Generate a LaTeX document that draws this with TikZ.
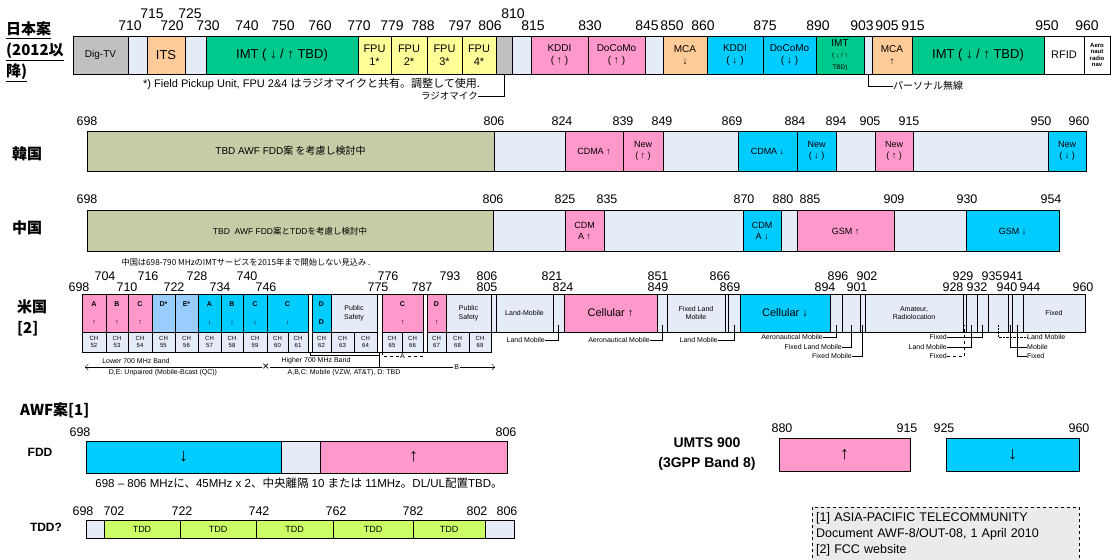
\documentclass[tikz,border=0pt]{standalone}
\usepackage{fontspec}
\setmainfont{Liberation Sans}
\newfontfamily\jp{Noto Sans CJK JP}
\usetikzlibrary{arrows.meta, calc}

\definecolor{blankc}{HTML}{E6ECF7}
\definecolor{pinkc}{HTML}{FF99CC}
\definecolor{cyanc}{HTML}{00CCFF}
\definecolor{grayc}{HTML}{C0C0C0}
\definecolor{orangec}{HTML}{FFCC99}
\definecolor{imtc}{HTML}{00C98D}
\definecolor{fpuc}{HTML}{FFFF99}
\definecolor{olivec}{HTML}{C6CCA6}
\definecolor{ltbluec}{HTML}{99CCFF}
\definecolor{tddc}{HTML}{CCFF66}
\definecolor{refc}{HTML}{EBEBEB}

\begin{document}
\begin{tikzpicture}[x=1pt, y=-1pt,
    band/.style={draw, line width=0.9pt, inner sep=0pt, outer sep=0pt,
                 align=center, fill=blankc},
    sp/.style 2 args={minimum width={(#2-#1)*1pt}, xshift={(#1+#2)/2*1pt}},
    jrow/.style={band, minimum height=38pt, font=\fontsize{10}{11.5}\selectfont},
    krow/.style={band, minimum height=40pt, font=\fontsize{9}{11}\selectfont},
    crow/.style={band, minimum height=41pt, font=\fontsize{9}{11}\selectfont},
    urow/.style={band, minimum height=38pt, font=\fontsize{7}{8.5}\selectfont},
    ulet/.style={font=\bfseries\fontsize{7}{8}\selectfont},
    ugap/.style={band, minimum height=58pt},
    chcell/.style={band, minimum height=20pt, font=\fontsize{6}{6.5}\selectfont},
    frow/.style={band, minimum height=32pt, font=\bfseries\fontsize{18}{18}\selectfont},
    trow/.style={band, minimum height=18pt, fill=tddc, font=\fontsize{9}{10}\selectfont},
    num/.style={inner sep=0pt, font=\fontsize{12.5}{13}\selectfont},
    jnum/.style={inner sep=0pt, font=\fontsize{14}{14}\selectfont},
    note/.style={inner sep=0pt, font=\fontsize{7}{8}\selectfont},
    cjknote/.style={inner sep=0pt, font=\fontsize{9.5}{10}\selectfont},
    country/.style={inner sep=0pt, align=left, font=\jp\bfseries\fontsize{15}{21}\selectfont},
    heading/.style={inner sep=0pt, align=center, font=\bfseries\fontsize{14}{20}\selectfont},
    t6/.style={font=\bfseries\fontsize{6}{6.5}\selectfont},
    t11/.style={font=\fontsize{11}{13}\selectfont},
    t13/.style={font=\fontsize{13}{14}\selectfont},
    >={Straight Barb[length=3pt]}
  ]
  \useasboundingbox (0,0) rectangle (1112,560);

  % ---- Japan
  \node[country, anchor=west] (jtitle) at (6,52)
    {\underline{日本案}\\\underline{(2012以}\\\underline{降)}};
  \node[jrow, sp={73}{128}, fill=grayc] (jdtv) at (0,55) {Dig-TV};
  \node[jrow, sp={128}{147}] (jg1) at (0,55) {};
  \node[jrow, sp={147}{185}, fill=orangec, t13] (jits) at (0,55) {ITS};
  \node[jrow, sp={185}{206}] (jg2) at (0,55) {};
  \node[jrow, sp={206}{358}, fill=imtc, t13] (jimt1) at (0,55) {IMT ( ↓ / ↑  TBD)};
  \node[jrow, sp={358}{391}, fill=fpuc, t11] (jfpu1) at (0,55) {FPU\\1*};
  \node[jrow, sp={391}{427}, fill=fpuc, t11] (jfpu2) at (0,55) {FPU\\2*};
  \node[jrow, sp={427}{462}, fill=fpuc, t11] (jfpu3) at (0,55) {FPU\\3*};
  \node[jrow, sp={462}{496}, fill=fpuc, t11] (jfpu4) at (0,55) {FPU\\4*};
  \node[jrow, sp={496}{512}, fill=grayc] (jmic) at (0,55) {};
  \node[jrow, sp={512}{531}] (jg3) at (0,55) {};
  \node[jrow, sp={531}{588}, fill=pinkc] (jkddiu) at (0,55) {KDDI\\( ↑ )};
  \node[jrow, sp={588}{645}, fill=pinkc] (jdcmu) at (0,55) {DoCoMo\\( ↑ )};
  \node[jrow, sp={645}{663}] (jg4) at (0,55) {};
  \node[jrow, sp={663}{707}, fill=orangec] (jmcad) at (0,55) {MCA\\↓};
  \node[jrow, sp={707}{763}, fill=cyanc] (jkddid) at (0,55) {KDDI\\( ↓ )};
  \node[jrow, sp={763}{816}, fill=cyanc] (jdcmd) at (0,55) {DoCoMo\\( ↓ )};
  \node[jrow, sp={816}{864}, fill=imtc] (jimt2) at (0,55)
    {IMT\\{\fontsize{6.5}{7}\selectfont( ↓ / ↑}\\{\fontsize{6.5}{7}\selectfont TBD)}};
  \node[jrow, sp={864}{872}] (jpers) at (0,55) {};
  \node[jrow, sp={872}{912}, fill=orangec] (jmcau) at (0,55) {MCA\\↑};
  \node[jrow, sp={912}{1044}, fill=imtc, t13] (jimt3) at (0,55) {IMT ( ↓ / ↑  TBD)};
  \node[jrow, sp={1044}{1084}, fill=white, t11] (jrfid) at (0,55) {RFID};
  \node[jrow, sp={1084}{1110}, fill=white, t6] (jaero) at (0,55) {Aero\\naut\\radio\\nav};
  \foreach \x/\t in {152/715, 190/725, 513/810}
    \node[jnum] (jn\t) at (\x,14) {\t};
  \foreach \x/\t in {130/710, 172/720, 208/730, 247/740, 283/750, 320/760, 359/770,
                     392/779, 423/788, 460/797, 490/806, 533/815, 590/830, 647/845,
                     672/850, 703/860, 765/875, 818/890, 862/903, 887/905, 913/915,
                     1047/950, 1087/960}
    \node[jnum] (jn\t) at (\x,26) {\t};
  \node[cjknote, anchor=west, font=\fontsize{11}{12}\selectfont] (jfpunote) at (143,84)
    {*) Field Pickup Unit, FPU 2\&4 {\jp はラジオマイクと共有。調整して使用.}};
  \node[cjknote, anchor=east, font=\jp\fontsize{9.5}{10}\selectfont] (jmicnote) at (478,96) {ラジオマイク};
  \node[cjknote, anchor=west, font=\jp\fontsize{10}{10}\selectfont] (jpersnote) at (893,86) {パーソナル無線};
  \draw[line width=0.7pt] (jmicnote.east) -| (jmic.south);
  \draw[line width=0.7pt] (jpersnote.west) -| (jpers.south);

  % ---- Korea
  \node[country, anchor=west] (ktitle) at (12,154) {韓国};
  \node[krow, sp={87}{494}, fill=olivec, font=\fontsize{10}{11}\selectfont] (kawf) at (0,151)
    {TBD AWF FDD{\jp 案 を考慮し検討中}};
  \node[krow, sp={494}{565}] (kg1) at (0,151) {};
  \node[krow, sp={565}{623}, fill=pinkc] (kcdmau) at (0,151) {CDMA ↑};
  \node[krow, sp={623}{663}, fill=pinkc] (knew1) at (0,151) {New\\( ↑ )};
  \node[krow, sp={663}{738}] (kg2) at (0,151) {};
  \node[krow, sp={738}{797}, fill=cyanc] (kcdmad) at (0,151) {CDMA ↓};
  \node[krow, sp={797}{836}, fill=cyanc] (knew2) at (0,151) {New\\( ↓ )};
  \node[krow, sp={836}{875}] (kg3) at (0,151) {};
  \node[krow, sp={875}{913}, fill=pinkc] (knew3) at (0,151) {New\\( ↑ )};
  \node[krow, sp={913}{1048}] (kg4) at (0,151) {};
  \node[krow, sp={1048}{1086}, fill=cyanc] (knew4) at (0,151) {New\\( ↓ )};
  \foreach \x/\t in {87/698, 494/806, 562/824, 623/839, 662/849, 732/869, 795/884,
                     836/894, 870/905, 909/915, 1041/950, 1079/960}
    \node[num] (kn\t) at (\x,121) {\t};

  % ---- China
  \node[country, anchor=west] (ctitle) at (12,228) {中国};
  \node[crow, sp={87}{493}, fill=olivec, font=\fontsize{8.5}{10}\selectfont] (cawf) at (0,231)
    {TBD\ \ AWF FDD{\jp 案と}TDD{\jp を考慮し検討中}};
  \node[crow, sp={493}{565}] (cg1) at (0,231) {};
  \node[crow, sp={565}{604}, fill=pinkc] (ccdmau) at (0,231) {CDM\\A ↑};
  \node[crow, sp={604}{743}] (cg2) at (0,231) {};
  \node[crow, sp={743}{781}, fill=cyanc] (ccdmad) at (0,231) {CDM\\A ↓};
  \node[crow, sp={781}{797}] (cg3) at (0,231) {};
  \node[crow, sp={797}{894}, fill=pinkc] (cgsmu) at (0,231) {GSM ↑};
  \node[crow, sp={894}{966}] (cg4) at (0,231) {};
  \node[crow, sp={966}{1059}, fill=cyanc] (cgsmd) at (0,231) {GSM ↓};
  \foreach \x/\t in {87/698, 493/806, 565/825, 607/835, 744/870, 783/880, 810/885,
                     894/909, 967/930, 1051/954}
    \node[num] (cn\t) at (\x,199) {\t};
  \node[cjknote, font=\jp\fontsize{8.2}{10}\selectfont] (cnote) at (246,262)
    {中国は698-790 MHzのIMTサービスを2015年まで開始しない見込み .};

  % ---- USA
  \node[country, anchor=west] (utitle) at (17,318) {米国\\{[2]}};
  \node[urow, sp={82}{106}, fill=pinkc, ulet] (ua1) at (0,313) {A\\[10pt]↑};
  \node[urow, sp={106}{128}, fill=pinkc, ulet] (ub1) at (0,313) {B\\[10pt]↑};
  \node[urow, sp={128}{152}, fill=pinkc, ulet] (uc1) at (0,313) {C\\[10pt]↑};
  \node[urow, sp={152}{175}, fill=ltbluec, ulet] (ud1) at (0,313) {D*\\[10pt]~};
  \node[urow, sp={175}{198}, fill=ltbluec, ulet] (ue1) at (0,313) {E*\\[10pt]~};
  \node[urow, sp={198}{221}, fill=cyanc, ulet] (ua2) at (0,313) {A\\[10pt]↓};
  \node[urow, sp={221}{243}, fill=cyanc, ulet] (ub2) at (0,313) {B\\[10pt]↓};
  \node[urow, sp={243}{267}, fill=cyanc, ulet] (uc2) at (0,313) {C\\[10pt]↓};
  \node[urow, sp={267}{308}, fill=cyanc, ulet] (uc3) at (0,313) {C\\[10pt]↓};
  \node[ugap, sp={308}{312}, fill=white] (ugapa) at (0,323) {};
  \node[urow, sp={312}{331}, fill=cyanc, ulet] (ud2) at (0,313) {D\\[10pt]D};
  \node[urow, sp={331}{377}] (ups1) at (0,313) {Public\\Safety};
  \node[ugap, sp={377}{382}, fill=white] (ugapb) at (0,323) {};
  \node[urow, sp={382}{423}, fill=pinkc, ulet] (uc4) at (0,313) {C\\[10pt]↑};
  \node[ugap, sp={423}{427}, fill=white] (ugapc) at (0,323) {};
  \node[urow, sp={427}{446}, fill=pinkc, ulet] (ud3) at (0,313) {D\\[10pt]↑};
  \node[urow, sp={446}{491}] (ups2) at (0,313) {Public\\Safety};
  \node[urow, sp={496}{553}] (ulm) at (0,313) {Land-Mobile};
  \node[urow, sp={564}{657}, fill=pinkc, t11] (ucellu) at (0,313) {Cellular ↑};
  \node[urow, sp={667}{725}] (uflm) at (0,313) {Fixed Land\\Mobile};
  \node[urow, sp={740}{830}, fill=cyanc, t11] (ucelld) at (0,313) {Cellular ↓};
  \node[urow, sp={865}{963}] (uam) at (0,313) {Amateur,\\Radiolocation};
  \node[urow, sp={1023}{1085}] (ufix) at (0,313) {Fixed};
  \foreach \a/\b/\n in {491/496/ug4, 553/564/ug5, 657/667/ug6, 725/728/ug7,
                        728/740/ug8, 830/842/ug9, 842/860/ug10, 860/865/ug11,
                        963/966/ug12, 966/977/ug13, 977/988/ug14, 988/1008/ug15,
                        1008/1012/ug16, 1012/1023/ug17}
    \node[urow, sp={\a}{\b}] (\n) at (0,313) {};
  \foreach \c/\a/\b in {52/82/106, 53/106/128, 54/128/152, 55/152/175, 56/175/198,
                        57/198/221, 58/221/243, 59/243/267, 60/267/288, 61/288/308,
                        62/312/331, 63/331/354, 64/354/377, 65/382/402, 66/402/423,
                        67/427/446, 68/446/469, 69/469/491}
    \node[chcell, sp={\a}{\b}] (ch\c) at (0,342) {CH\\\c};
  \foreach \x/\t in {105/704, 148/716, 197/728, 247/740, 388/776, 450/793, 487/806,
                     552/821, 658/851, 720/866, 838/896, 867/902, 963/929, 992/935,
                     1013/941}
    \node[num] (un\t) at (\x,276) {\t};
  \foreach \x/\t in {79/698, 127/710, 174/722, 220/734, 266/746, 378/775, 422/787,
                     487/805, 563/824, 658/849, 730/869, 825/894, 857/901, 953/928,
                     977/932, 1007/940, 1030/944, 1083/960}
    \node[num] (un\t) at (\x,287) {\t};

  % bands below the US chart
  \node[note] (ulower) at (136,361) {Lower 700 MHz Band};
  \node[note] (ulowerd) at (163,373) {D,E: Unpaired (Mobile-Bcast (QC))};
  \node[note] (uhigher) at (316,361) {Higher 700 MHz Band};
  \node[note] (uhigherd) at (344,373) {A,B,C: Mobile (VZW, AT\&T), D: TBD};
  \node[inner sep=0pt, font=\fontsize{12}{12}\selectfont] (ucross) at (266,367) {×};
  \coordinate (ulowend) at (85,367);
  \coordinate (uhighend) at (495,367);
  \draw[->] (ucross.west) -- (ulowend);
  \draw[->] (ucross.east) -- node[pos=0.83, fill=white, note, inner sep=1pt] {B} (uhighend);
  \draw (ugapa.south) -- ++(0,3) -| (ugapb.south);
  \draw (ugapb.south) -- ($(ugapb.south)+(0,15)$);
  \draw[dashed] (ch65.south west) -- ++(0,4) -| node[pos=0.25, fill=white, note, inner sep=1pt] {A} (ch66.south east);

  % service labels
  \node[note, anchor=east] (an1) at (545,340) {Land Mobile};
  \node[note, anchor=east] (an2) at (650,340) {Aeronautical Mobile};
  \node[note, anchor=east] (an3) at (718,340) {Land Mobile};
  \node[note, anchor=east] (an4) at (823,337) {Aeronautical Mobile};
  \node[note, anchor=east] (an5) at (842,347) {Fixed Land Mobile};
  \node[note, anchor=east] (an6) at (852,356) {Fixed Mobile};
  \node[note, anchor=east] (an7) at (947,337) {Fixed};
  \node[note, anchor=east] (an8) at (947,347) {Land Mobile};
  \node[note, anchor=east] (an9) at (947,356) {Fixed};
  \node[note, anchor=west] (an10) at (1027,337) {Land Mobile};
  \node[note, anchor=west] (an11) at (1027,347) {Mobile};
  \node[note, anchor=west] (an12) at (1027,356) {Fixed};
  \draw (an1.east) -| ($(ug5.south)+(0,-7)$);
  \draw (an2.east) -| ($(ug6.south)+(0,-7)$);
  \draw (an3.east) -| ($(ug8.south)+(0,-7)$);
  \draw (an4.east) -| ($(ug9.south)+(0,-7)$);
  \draw (an5.east) -| ($(ug10.south)+(0,-7)$);
  \draw (an6.east) -| ($(ug11.south)+(0,-7)$);
  \draw (an7.east) -| ($(ug14.south)+(0,-7)$);
  \draw (an8.east) -| ($(ug13.south)+(0,-7)$);
  \draw[dashed] (an9.east) -| ($(ug12.south)+(0,-7)$);
  \draw[densely dotted] (an10.west) -| ($(ug15.south)+(0,-7)$);
  \draw (an11.west) -| ($(ug16.south)+(0,-7)$);
  \draw (an12.west) -| ($(ug17.south)+(0,-7)$);

  % ---- AWF
  \node[country, anchor=west] (atitle) at (20,410) {AWF案[1]};
  \node[heading, font=\bfseries\fontsize{12}{14}\selectfont] (afdd) at (40,452) {FDD};
  \node[frow, sp={86}{281}, fill=cyanc] (afddd) at (0,457) {↓};
  \node[frow, sp={281}{320}] (afddg) at (0,457) {};
  \node[frow, sp={320}{507}, fill=pinkc] (afddu) at (0,457) {↑};
  \foreach \x/\t in {80/698, 506/806}
    \node[num] (fn\t) at (\x,432) {\t};
  \node[cjknote, font=\fontsize{11.5}{12}\selectfont] (fnote) at (299,483)
    {698 – 806 MHz{\jp に、}45MHz x 2{\jp 、中央離隔} 10 {\jp または} 11MHz{\jp 。}DL/UL{\jp 配置}TBD{\jp 。}};
  \node[heading, font=\bfseries\fontsize{12}{14}\selectfont] (atdd) at (46,527) {TDD?};
  \node[trow, sp={86}{104}, fill=blankc] (tg1) at (0,529) {};
  \node[trow, sp={104}{180}] (tdd1) at (0,529) {TDD};
  \node[trow, sp={180}{256}] (tdd2) at (0,529) {TDD};
  \node[trow, sp={256}{333}] (tdd3) at (0,529) {TDD};
  \node[trow, sp={333}{413}] (tdd4) at (0,529) {TDD};
  \node[trow, sp={413}{485}] (tdd5) at (0,529) {TDD};
  \node[trow, sp={485}{514}, fill=blankc] (tg2) at (0,529) {};
  \foreach \x/\t in {83/698, 114/702, 182/722, 259/742, 336/762, 413/782, 477/802, 507/806}
    \node[num] (tn\t) at (\x,511) {\t};

  % ---- UMTS 900
  \node[heading] (mtitle) at (707,454) {UMTS 900\\(3GPP Band 8)};
  \node[frow, sp={779}{910}, fill=pinkc, minimum height=33pt] (mup) at (0,454.5) {↑};
  \node[frow, sp={946}{1079}, fill=cyanc, minimum height=33pt] (mdown) at (0,454.5) {↓};
  \foreach \x/\t in {782/880, 907/915, 944/925, 1079/960}
    \node[num] (mn\t) at (\x,428) {\t};

  % ---- references
  \node[draw, dashed, fill=refc, anchor=north west, minimum width=267pt,
        minimum height=54pt, text width=259pt, align=left, inner sep=4pt,
        font=\fontsize{12.5}{16}\selectfont] (refs) at (812,507)
    {[1] ASIA-PACIFIC TELECOMMUNITY\\Document AWF-8/OUT-08, 1 April 2010\\{[2]} FCC website};
\end{tikzpicture}
\end{document}
